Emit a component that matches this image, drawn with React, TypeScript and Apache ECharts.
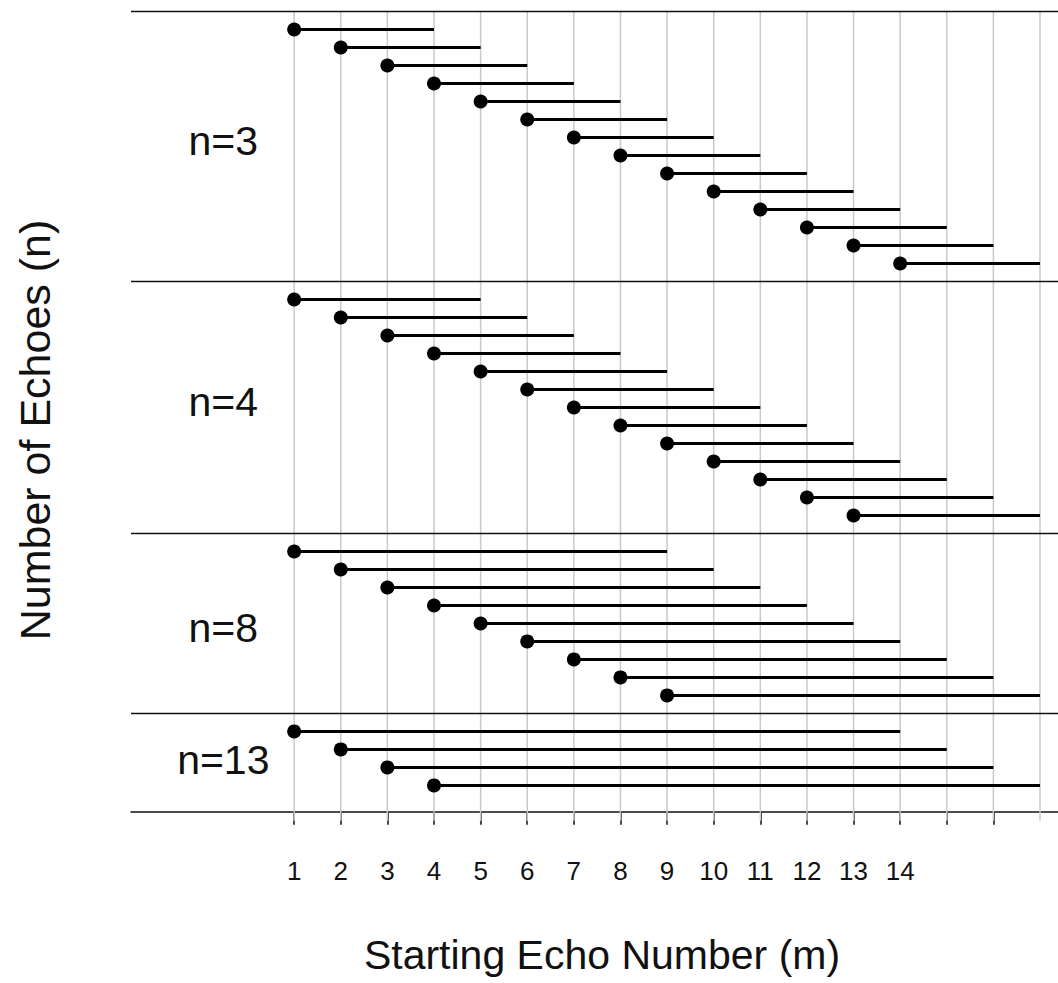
import React, { useEffect, useRef } from "react";
import * as echarts from "echarts";

// ---- data ----
const groupN = [3, 4, 8, 13];
const startsN3 = [1, 2, 3, 4, 5, 6, 7, 8, 9, 10, 11, 12, 13, 14];
const startsN4 = [1, 2, 3, 4, 5, 6, 7, 8, 9, 10, 11, 12, 13];
const startsN8 = [1, 2, 3, 4, 5, 6, 7, 8, 9];
const startsN13 = [1, 2, 3, 4];
const groupStarts = [startsN3, startsN4, startsN8, startsN13];
const groupLabels = ["n=3", "n=4", "n=8", "n=13"];
const groupLabelRow = [7.2, 21.7, 34.25, 41.6];
const groupLabelX = -0.52;
const separatorRows = [0, 15, 29, 39];
const gridLineX = [1, 2, 3, 4, 5, 6, 7, 8, 9, 10, 11, 12, 13, 14, 15, 16, 17];
const tickValues = [1, 2, 3, 4, 5, 6, 7, 8, 9, 10, 11, 12, 13, 14, 15, 16];
const tickLabelValues = [1, 2, 3, 4, 5, 6, 7, 8, 9, 10, 11, 12, 13, 14];
const xTitle = "Starting Echo Number (m)";
const yTitle = "Number of Echoes (n)";

const FONT = "'Liberation Sans', Arial, Helvetica, sans-serif";
const X_MIN = -2.5;
const X_MAX = 17.386;
const Y_MAX = 44.46;

function buildSegments() {
  const out: number[][] = [];
  let offset = 0;
  groupStarts.forEach((starts, g) => {
    starts.forEach((m, i) => {
      out.push([m, m + groupN[g], offset + 1 + i]);
    });
    offset += starts.length + 1;
  });
  return out;
}

export default function App() {
  const ref = useRef<HTMLDivElement>(null);
  useEffect(() => {
    document.body.style.margin = "0";
    const chart = echarts.init(ref.current!, null, { renderer: "svg" });
    const segments = buildSegments();
    chart.setOption({
      animation: false,
      backgroundColor: "#ffffff",
      grid: { left: 131, right: 0, top: 11.5, bottom: 171.3, containLabel: false },
      xAxis: {
        type: "value",
        position: "bottom",
        min: X_MIN,
        max: X_MAX,
        splitLine: { show: false },
        axisLine: { show: true, onZero: false, lineStyle: { color: "#111", width: 1.5 } },
        axisTick: {
          show: true,
          customValues: tickValues,
          length: 13,
          lineStyle: { color: "#111", width: 1.5 },
        },
        axisLabel: {
          show: true,
          customValues: tickLabelValues,
          margin: 46,
          fontSize: 26,
          color: "#111",
          fontFamily: FONT,
        },
      },
      yAxis: {
        type: "value",
        inverse: true,
        min: 0,
        max: Y_MAX,
        show: false,
      },
      graphic: [
        {
          type: "text",
          x: 602,
          y: 955,
          style: {
            text: xTitle,
            fontSize: 41,
            fontFamily: FONT,
            fill: "#111",
            textAlign: "center",
            textVerticalAlign: "middle",
          },
        },
        {
          type: "text",
          x: 35,
          y: 430,
          rotation: Math.PI / 2,
          style: {
            text: yTitle,
            fontSize: 43,
            fontFamily: FONT,
            fill: "#111",
            textAlign: "center",
            textVerticalAlign: "middle",
          },
        },
      ],
      series: [
        {
          type: "custom",
          name: "grid",
          clip: false,
          silent: true,
          data: gridLineX.map((x) => [x]),
          renderItem: (params: any, api: any) => {
            const x = api.value(0);
            const p0 = api.coord([x, 0]);
            const p1 = api.coord([x, Y_MAX]);
            return {
              type: "line",
              shape: { x1: p0[0], y1: p0[1], x2: p1[0], y2: p1[1] + 9 },
              style: { stroke: "#c9c9c9", lineWidth: 1.5 },
            };
          },
        },
        {
          type: "custom",
          name: "separators",
          clip: false,
          silent: true,
          data: separatorRows.map((r) => [r]),
          renderItem: (params: any, api: any) => {
            const r = api.value(0);
            const cs = params.coordSys;
            const y = api.coord([0, r])[1];
            return {
              type: "line",
              shape: { x1: cs.x, y1: y, x2: cs.x + cs.width, y2: y },
              style: { stroke: "#111", lineWidth: 1.5 },
            };
          },
        },
        {
          type: "custom",
          name: "segments",
          clip: false,
          data: segments,
          encode: { x: [0, 1], y: 2 },
          renderItem: (params: any, api: any) => {
            const a = api.coord([api.value(0), api.value(2)]);
            const b = api.coord([api.value(1), api.value(2)]);
            return {
              type: "group",
              children: [
                {
                  type: "line",
                  shape: { x1: a[0], y1: a[1], x2: b[0], y2: b[1] },
                  style: { stroke: "#000", lineWidth: 3 },
                },
                {
                  type: "circle",
                  shape: { cx: a[0], cy: a[1], r: 7 },
                  style: { fill: "#000" },
                },
              ],
            };
          },
        },
        {
          type: "custom",
          name: "labels",
          clip: false,
          silent: true,
          data: groupLabels.map((t, i) => [groupLabelX, groupLabelRow[i], i]),
          renderItem: (params: any, api: any) => {
            const p = api.coord([api.value(0), api.value(1)]);
            const i = api.value(2);
            return {
              type: "text",
              x: p[0],
              y: p[1],
              style: {
                text: groupLabels[i],
                fontSize: 41,
                fontFamily: FONT,
                fill: "#111",
                textAlign: "center",
                textVerticalAlign: "middle",
              },
            };
          },
        },
      ],
    });
    return () => chart.dispose();
  }, []);
  return (
    <div
      ref={ref}
      style={{ position: "absolute", left: 0, top: 0, width: 1058, height: 983 }}
    />
  );
}
